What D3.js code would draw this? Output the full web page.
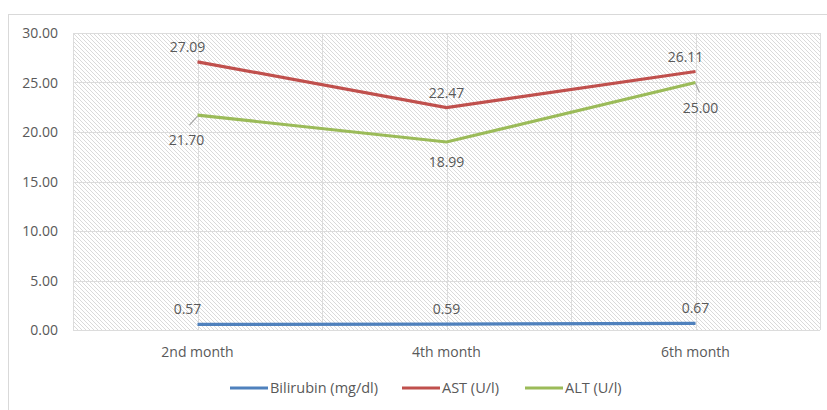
<!DOCTYPE html>
<html>
<head>
<meta charset="utf-8">
<script src="https://cdn.jsdelivr.net/npm/d3@7"></script>
<style>
  body { margin: 0; background: #fff; }
  text { font-family: "Open Sans", "Noto Sans", sans-serif; fill: #595959; }
</style>
</head>
<body>
<div id="chart"></div>
<script>
// data
var months = ['2nd month', '4th month', '6th month'];
var bilirubin = [0.57, 0.59, 0.67];
var ast = [27.09, 22.47, 26.11];
var alt = [21.70, 18.99, 25.00];
var yTicks = [0, 5, 10, 15, 20, 25, 30];

var series = [
  { name: 'Bilirubin (mg/dl)', values: bilirubin, color: '#4f81bd', pos: ['above', 'above', 'above'] },
  { name: 'AST (U/l)', values: ast, color: '#c0504d', pos: ['above', 'above', 'above'] },
  { name: 'ALT (U/l)', values: alt, color: '#9bbb59', pos: ['belowLeft', 'below', 'belowRight'] }
];

var W = 827, H = 410;
var plot = { left: 73, right: 820, top: 33, bottom: 330 };

var svg = d3.select('#chart').append('svg')
  .attr('width', W)
  .attr('height', H);

// hatch pattern for the plot area
var defs = svg.append('defs');
var pat = defs.append('pattern')
  .attr('id', 'hatch')
  .attr('patternUnits', 'userSpaceOnUse')
  .attr('width', 4)
  .attr('height', 4);
pat.append('path')
  .attr('d', 'M-1,-1 L5,5 M-1,3 L1,5 M3,-1 L5,1')
  .attr('stroke', '#d0d0d0')
  .attr('stroke-width', 0.8);

// outer chart border
svg.append('rect')
  .attr('x', 8.5).attr('y', 14.5)
  .attr('width', W + 10).attr('height', H + 10)
  .attr('fill', 'none')
  .attr('stroke', '#d9d9d9');

var x = d3.scaleBand().domain(months).range([plot.left, plot.right]).padding(0);
var y = d3.scaleLinear().domain([0, 30]).range([plot.bottom, plot.top]);
var cx = function(m) { return x(m) + x.bandwidth() / 2; };

svg.append('rect')
  .attr('x', plot.left).attr('y', plot.top)
  .attr('width', plot.right - plot.left).attr('height', plot.bottom - plot.top)
  .attr('fill', 'url(#hatch)');

// horizontal gridlines
svg.append('g').selectAll('line').data(yTicks).join('line')
  .attr('x1', plot.left).attr('x2', plot.right)
  .attr('y1', function(d) { return Math.round(y(d)) + 0.5; })
  .attr('y2', function(d) { return Math.round(y(d)) + 0.5; })
  .attr('stroke', '#dcdcdc');

// vertical gridlines: category centres and boundaries
var vx = [];
months.forEach(function(m) { vx.push(x(m)); vx.push(cx(m)); });
vx.push(plot.right);
svg.append('g').selectAll('line').data(vx).join('line')
  .attr('x1', function(d) { return Math.round(d) + 0.5; })
  .attr('x2', function(d) { return Math.round(d) + 0.5; })
  .attr('y1', plot.top).attr('y2', plot.bottom)
  .attr('stroke', '#dcdcdc');

// y axis labels
svg.append('g').selectAll('text').data(yTicks).join('text')
  .attr('x', 58).attr('y', function(d) { return y(d) + 5; })
  .attr('text-anchor', 'end')
  .style('font-size', '14px')
  .text(function(d) { return d.toFixed(2); });

// x axis labels
svg.append('g').selectAll('text').data(months).join('text')
  .attr('x', cx).attr('y', 357)
  .attr('text-anchor', 'middle')
  .style('font-size', '14px')
  .text(function(d) { return d; });

var line = d3.line()
  .x(function(d, i) { return cx(months[i]); })
  .y(function(d) { return y(d); });

series.forEach(function(s) {
  svg.append('path')
    .datum(s.values)
    .attr('d', line)
    .attr('fill', 'none')
    .attr('stroke', s.color)
    .attr('stroke-width', 3.2);
});

// data labels
series.forEach(function(s) {
  s.values.forEach(function(v, i) {
    var px = cx(months[i]), py = y(v);
    var tx = px, ty = py - 10;
    if (s.pos[i] === 'below') { ty = py + 25; }
    if (s.pos[i] === 'belowLeft') {
      tx = px - 11; ty = py + 30;
      svg.append('line').attr('x1', px).attr('y1', py + 1).attr('x2', px - 8).attr('y2', py + 10)
        .attr('stroke', '#a6a6a6').attr('stroke-width', 1.2);
    }
    if (s.pos[i] === 'belowRight') {
      tx = px + 5; ty = py + 30;
      svg.append('line').attr('x1', px).attr('y1', py + 1).attr('x2', px + 4).attr('y2', py + 10)
        .attr('stroke', '#a6a6a6').attr('stroke-width', 1.2);
    }
    if (s.name === 'AST (U/l)' && i === 2) { tx = px - 10; }
    if (s.name === 'Bilirubin (mg/dl)' && i === 0) { tx = px - 10; }
    if (s.name === 'AST (U/l)' && i === 0) { tx = px - 10; }
    svg.append('text')
      .attr('x', tx).attr('y', ty)
      .attr('text-anchor', 'middle')
      .style('font-size', '14px')
      .text(v.toFixed(2));
  });
});

// legend
var legendX = [230, 402, 525];
var lg = svg.append('g').selectAll('g').data(series).join('g')
  .attr('transform', function(d, i) { return 'translate(' + legendX[i] + ',388)'; });
lg.append('line')
  .attr('x1', 0).attr('x2', 38).attr('y1', 0).attr('y2', 0)
  .attr('stroke', function(d) { return d.color; })
  .attr('stroke-width', 3.2);
lg.append('text')
  .attr('x', 40).attr('y', 5)
  .style('font-size', '14.5px')
  .text(function(d) { return d.name; });
</script>
</body>
</html>
